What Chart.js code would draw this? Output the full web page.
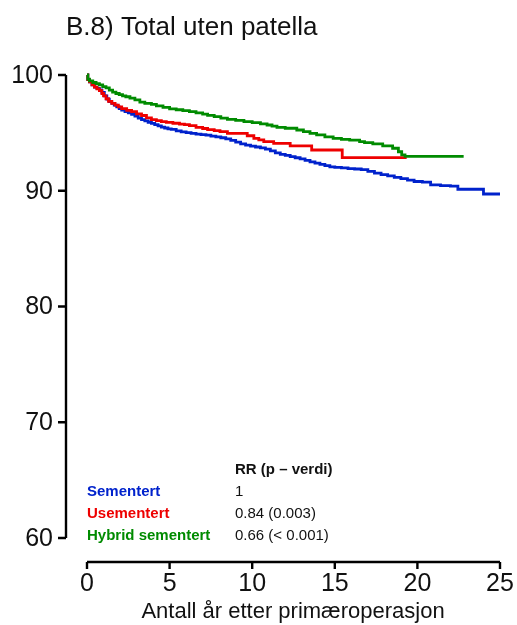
<!DOCTYPE html>
<html>
<head>
<meta charset="utf-8">
<script src="https://cdn.jsdelivr.net/npm/chart.js@4/dist/chart.umd.min.js"></script>
<style>
  html, body { margin: 0; padding: 0; background: #fff; }
  #wrap { width: 517px; height: 625px; }
</style>
</head>
<body>
<div id="wrap"><canvas id="km" width="517" height="625"></canvas></div>
<script>
// Kaplan-Meier survival (%) by fixation group, years after primary operation
const sementertTid = [0, 0.05, 0.15, 0.3, 0.45, 0.6, 0.75, 0.9, 1.05, 1.2, 1.35, 1.5, 1.65, 1.8, 1.95, 2.1, 2.3, 2.5, 2.7, 2.9, 3.1, 3.3, 3.5, 3.7, 3.9, 4.1, 4.3, 4.5, 4.7, 4.9, 5.1, 5.4, 5.7, 6.0, 6.3, 6.6, 6.9, 7.2, 7.5, 7.8, 8.1, 8.4, 8.7, 9.0, 9.3, 9.6, 9.9, 10.2, 10.5, 10.8, 11.1, 11.4, 11.7, 12.0, 12.3, 12.6, 12.9, 13.2, 13.5, 13.8, 14.1, 14.4, 14.7, 15.0, 15.4, 15.8, 16.2, 16.6, 17.0, 17.4, 17.8, 18.2, 18.6, 19.0, 19.4, 19.8, 20.3, 20.8, 21.4, 22.0, 22.45, 24.0, 25.0];
const sementertOverlevelse = [100, 99.6, 99.4, 99.15, 98.95, 98.85, 98.72, 98.5, 98.2, 97.92, 97.7, 97.55, 97.4, 97.25, 97.1, 96.97, 96.83, 96.72, 96.6, 96.45, 96.28, 96.15, 96.03, 95.92, 95.82, 95.72, 95.6, 95.5, 95.42, 95.35, 95.3, 95.18, 95.08, 95.02, 94.95, 94.9, 94.85, 94.8, 94.72, 94.65, 94.58, 94.48, 94.35, 94.2, 94.05, 93.95, 93.85, 93.78, 93.7, 93.6, 93.45, 93.28, 93.15, 93.05, 92.95, 92.85, 92.75, 92.62, 92.5, 92.38, 92.28, 92.17, 92.07, 92.02, 91.97, 91.92, 91.88, 91.82, 91.68, 91.52, 91.4, 91.28, 91.15, 91.05, 90.92, 90.8, 90.75, 90.5, 90.45, 90.4, 90.13, 89.72, 89.72];

const usementertTid = [0, 0.05, 0.15, 0.3, 0.45, 0.6, 0.75, 0.9, 1.0, 1.15, 1.3, 1.5, 1.7, 1.9, 2.1, 2.4, 2.7, 3.0, 3.3, 3.6, 3.9, 4.2, 4.5, 4.8, 5.2, 5.6, 5.9, 6.2, 6.6, 7.0, 7.3, 7.7, 8.05, 8.5, 9.7, 10.1, 10.4, 10.7, 11.3, 12.3, 13.6, 15.45, 19.35];
const usementertOverlevelse = [100, 99.6, 99.4, 99.15, 98.95, 98.8, 98.65, 98.4, 98.2, 97.95, 97.72, 97.55, 97.4, 97.25, 97.1, 96.95, 96.83, 96.65, 96.5, 96.3, 96.15, 96.05, 95.97, 95.9, 95.83, 95.76, 95.72, 95.62, 95.48, 95.38, 95.28, 95.2, 95.1, 94.96, 94.75, 94.53, 94.4, 94.24, 94.1, 93.87, 93.52, 92.86, 92.86];

const hybridTid = [0, 0.05, 0.15, 0.35, 0.55, 0.75, 0.95, 1.15, 1.35, 1.55, 1.75, 1.95, 2.15, 2.35, 2.6, 2.9, 3.2, 3.5, 3.9, 4.2, 4.6, 5.0, 5.4, 5.8, 6.2, 6.6, 7.0, 7.3, 7.7, 8.1, 8.5, 9.0, 9.5, 10.0, 10.5, 10.9, 11.2, 11.5, 12.0, 12.7, 13.1, 13.5, 13.9, 14.4, 14.9, 15.4, 15.9, 16.5, 16.8, 17.3, 17.9, 18.5, 18.85, 19.05, 19.25, 22.8];
const hybridOverlevelse = [100, 99.65, 99.5, 99.35, 99.25, 99.15, 99.0, 98.88, 98.7, 98.52, 98.4, 98.3, 98.2, 98.12, 98.0, 97.85, 97.65, 97.55, 97.47, 97.33, 97.2, 97.08, 97.0, 96.92, 96.83, 96.72, 96.62, 96.52, 96.4, 96.28, 96.17, 96.08, 95.97, 95.88, 95.78, 95.68, 95.58, 95.48, 95.4, 95.25, 95.1, 94.95, 94.82, 94.65, 94.53, 94.44, 94.38, 94.24, 94.15, 94.05, 93.87, 93.67, 93.37, 93.1, 92.97, 92.97];

const xTicks = [0, 5, 10, 15, 20, 25];
const yTicks = [60, 70, 80, 90, 100];

const grupper = ['Sementert', 'Usementert', 'Hybrid sementert'];
const rrTekst = ['1', '0.84 (0.003)', '0.66 (< 0.001)'];
const farger = ['#0022CC', '#EE0000', '#008B00'];

const tittel = 'B.8) Total uten patella';
const xTittel = 'Antall år etter primæroperasjon';
const rrOverskrift = 'RR (p \u2013 verdi)';

const FONT = '"Liberation Sans", Arial, Helvetica, sans-serif';

function punkter(tid, verdi) {
  return tid.map((t, i) => ({ x: t, y: verdi[i] }));
}

// Axes, labels, title and RR table drawn in R base-graphics style
const rammePlugin = {
  id: 'ramme',
  afterDraw(chart) {
    const ctx = chart.ctx;
    const xs = chart.scales.x, ys = chart.scales.y;
    ctx.save();
    ctx.fillStyle = '#000';
    ctx.strokeStyle = '#000';
    ctx.lineWidth = 2.4;

    // title
    ctx.font = '26px ' + FONT;
    ctx.textAlign = 'left';
    ctx.textBaseline = 'alphabetic';
    ctx.fillStyle = '#111';
    ctx.fillText(tittel, 66, 35);

    // y axis
    const axX = 66;
    ctx.beginPath();
    ctx.moveTo(axX, ys.getPixelForValue(yTicks[0]));
    ctx.lineTo(axX, ys.getPixelForValue(yTicks[yTicks.length - 1]));
    yTicks.forEach(v => {
      const py = ys.getPixelForValue(v);
      ctx.moveTo(axX, py);
      ctx.lineTo(axX - 8, py);
    });
    ctx.stroke();
    ctx.font = '25px ' + FONT;
    ctx.textAlign = 'right';
    ctx.textBaseline = 'middle';
    yTicks.forEach(v => ctx.fillText(String(v), 53, ys.getPixelForValue(v) + 1));

    // x axis
    const axY = 562;
    ctx.beginPath();
    ctx.moveTo(xs.getPixelForValue(xTicks[0]), axY);
    ctx.lineTo(xs.getPixelForValue(xTicks[xTicks.length - 1]), axY);
    xTicks.forEach(v => {
      const px = xs.getPixelForValue(v);
      ctx.moveTo(px, axY);
      ctx.lineTo(px, axY + 7);
    });
    ctx.stroke();
    ctx.textAlign = 'center';
    ctx.textBaseline = 'alphabetic';
    xTicks.forEach(v => ctx.fillText(String(v), xs.getPixelForValue(v), 591));

    ctx.font = '22px ' + FONT;
    ctx.fillText(xTittel, 293, 618);

    // RR table
    ctx.textAlign = 'left';
    ctx.textBaseline = 'middle';
    ctx.font = 'bold 15px ' + FONT;
    ctx.fillStyle = '#111';
    ctx.fillText(rrOverskrift, 235, 470);
    const rader = [492, 514, 536];
    grupper.forEach((g, i) => {
      ctx.font = 'bold 15px ' + FONT;
      ctx.fillStyle = farger[i];
      ctx.fillText(g, 87, rader[i]);
      ctx.font = '15px ' + FONT;
      ctx.fillStyle = '#111';
      ctx.fillText(rrTekst[i], 235, rader[i]);
    });
    ctx.restore();
  }
};

const felles = { stepped: true, pointRadius: 0, borderWidth: 2.8, fill: false, clip: false };

new Chart(document.getElementById('km'), {
  type: 'line',
  data: {
    datasets: [
      { label: grupper[0], data: punkter(sementertTid, sementertOverlevelse), borderColor: farger[0], order: 3, ...felles },
      { label: grupper[1], data: punkter(usementertTid, usementertOverlevelse), borderColor: farger[1], order: 2, ...felles },
      { label: grupper[2], data: punkter(hybridTid, hybridOverlevelse), borderColor: farger[2], order: 1, ...felles }
    ]
  },
  options: {
    responsive: false,
    animation: false,
    devicePixelRatio: 1,
    layout: { padding: { left: 87, right: 17, top: 75, bottom: 87 } },
    plugins: { legend: { display: false }, tooltip: { enabled: false }, title: { display: false } },
    scales: {
      x: { type: 'linear', min: 0, max: 25, display: false },
      y: { type: 'linear', min: 60, max: 100, display: false }
    }
  },
  plugins: [rammePlugin]
});
</script>
</body>
</html>
